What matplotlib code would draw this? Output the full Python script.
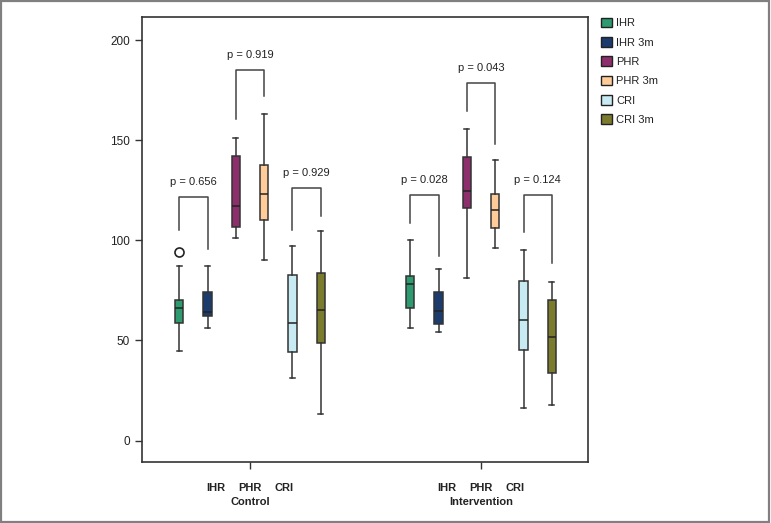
import matplotlib
matplotlib.use("Agg")
import matplotlib.pyplot as plt
from matplotlib.patches import Rectangle, Patch
from matplotlib import transforms

plt.rcParams['font.family'] = ['Liberation Sans', 'DejaVu Sans']

groups = ["Control", "Intervention"]
series = ["IHR", "IHR 3m", "PHR", "PHR 3m", "CRI", "CRI 3m"]
colors = ["#2e9a70", "#1c3c6e", "#8c2f6c", "#ffcc99", "#c8eaf2", "#7b7b2e"]

# five-number summaries, per group, per series
whislo = [[44.8, 56.2, 101.0, 90.3, 31.2, 13.5],
          [56.2, 54.2, 81.0, 96.0, 16.5, 17.7]]
q1 = [[58.5, 62.2, 106.5, 110.2, 44.3, 48.5],
      [66.3, 58.3, 116.3, 106.0, 45.0, 33.7]]
med = [[66.0, 64.0, 117.2, 123.3, 58.7, 65.2],
       [78.2, 64.7, 124.8, 115.3, 60.2, 51.8]]
q3 = [[70.0, 74.2, 142.0, 137.8, 82.7, 83.5],
      [82.3, 74.2, 141.7, 123.3, 79.7, 70.3]]
whishi = [[87.3, 87.3, 151.3, 163.3, 97.2, 104.7],
          [100.2, 85.5, 155.5, 140.3, 95.3, 79.0]]
fliers = [[[94.2], [], [], [], [], []],
          [[], [], [], [], [], []]]

# p-value brackets: (pair index, bracket top, left leg end, right leg end, label)
pvals = [[(0, 121.5, 105.0, 95.7, "p = 0.656"),
          (1, 184.8, 160.7, 172.0, "p = 0.919"),
          (2, 126.0, 105.0, 112.0, "p = 0.929")],
         [(0, 122.5, 108.7, 92.3, "p = 0.028"),
          (1, 178.7, 164.5, 148.3, "p = 0.043"),
          (2, 122.5, 104.0, 88.5, "p = 0.124")]]

sub_labels = ["IHR", "PHR", "CRI"]

fig = plt.figure(figsize=(7.71, 5.23), dpi=100)
ax = fig.add_axes([0.1842, 0.1166, 0.5785, 0.8509])

step = 0.1225
offsets = [(k - 2.5) * step for k in range(6)]
edge = "#333333"

for g in range(len(groups)):
    stats = []
    for k in range(len(series)):
        stats.append(dict(whislo=whislo[g][k], q1=q1[g][k], med=med[g][k],
                          q3=q3[g][k], whishi=whishi[g][k], fliers=fliers[g][k]))
    pos = [g + o for o in offsets]
    bp = ax.bxp(stats, positions=pos, widths=0.036, capwidths=0.022,
                patch_artist=True, manage_ticks=False,
                boxprops=dict(edgecolor=edge, linewidth=1.1),
                medianprops=dict(color="#222222", linewidth=1.1),
                whiskerprops=dict(color=edge, linewidth=1.1),
                capprops=dict(color=edge, linewidth=1.1),
                flierprops=dict(marker="o", markerfacecolor="white",
                                markeredgecolor="#222222", markersize=6.5,
                                markeredgewidth=1.2))
    for patch, c in zip(bp["boxes"], colors):
        patch.set_facecolor(c)

    for pair, top, lft, rgt, lab in pvals[g]:
        x0 = pos[2 * pair]
        x1 = pos[2 * pair + 1]
        ax.plot([x0, x0, x1, x1], [lft, top, top, rgt], color="#444444", lw=1.1)
        ax.text((x0 + x1) / 2, top + 7.5, lab, ha="center", va="center",
                fontsize=8, color="#222222")

ax.set_xlim(-0.4675, 1.463)
ax.set_ylim(-10.7, 211.5)
ax.set_yticks([0, 50, 100, 150, 200])
ax.set_xticks([0, 1])
ax.set_xticklabels(["", ""])
ax.tick_params(axis="both", direction="out", length=5, width=1, color="#333333",
               labelsize=8.5, labelcolor="#222222")
for s in ax.spines.values():
    s.set_color("#333333")
    s.set_linewidth(1.2)

trans = transforms.blended_transform_factory(ax.transData, ax.transAxes)
for g, name in enumerate(groups):
    for j, lab in enumerate(sub_labels):
        ax.text(g + (j - 1) * 0.147, -0.058, lab, transform=trans, ha="center",
                va="center", fontsize=8, fontweight="bold", color="#222222")
    ax.text(g, -0.09, name, transform=trans, ha="center", va="center",
            fontsize=8, fontweight="bold", color="#222222")

handles = [Patch(facecolor=c, edgecolor="#222222", linewidth=1) for c in colors]
fig.legend(handles, series, loc="upper left", bbox_to_anchor=(0.767, 0.985),
           frameon=False, fontsize=8, handlelength=0.95, handleheight=0.95,
           handletextpad=0.4, labelspacing=0.78, labelcolor="#222222")

fig.patches.append(Rectangle((0.001, 0.001), 0.997, 0.997, transform=fig.transFigure,
                             fill=False, edgecolor="#808080", linewidth=1.6))

fig.savefig("out.png", dpi=100)
